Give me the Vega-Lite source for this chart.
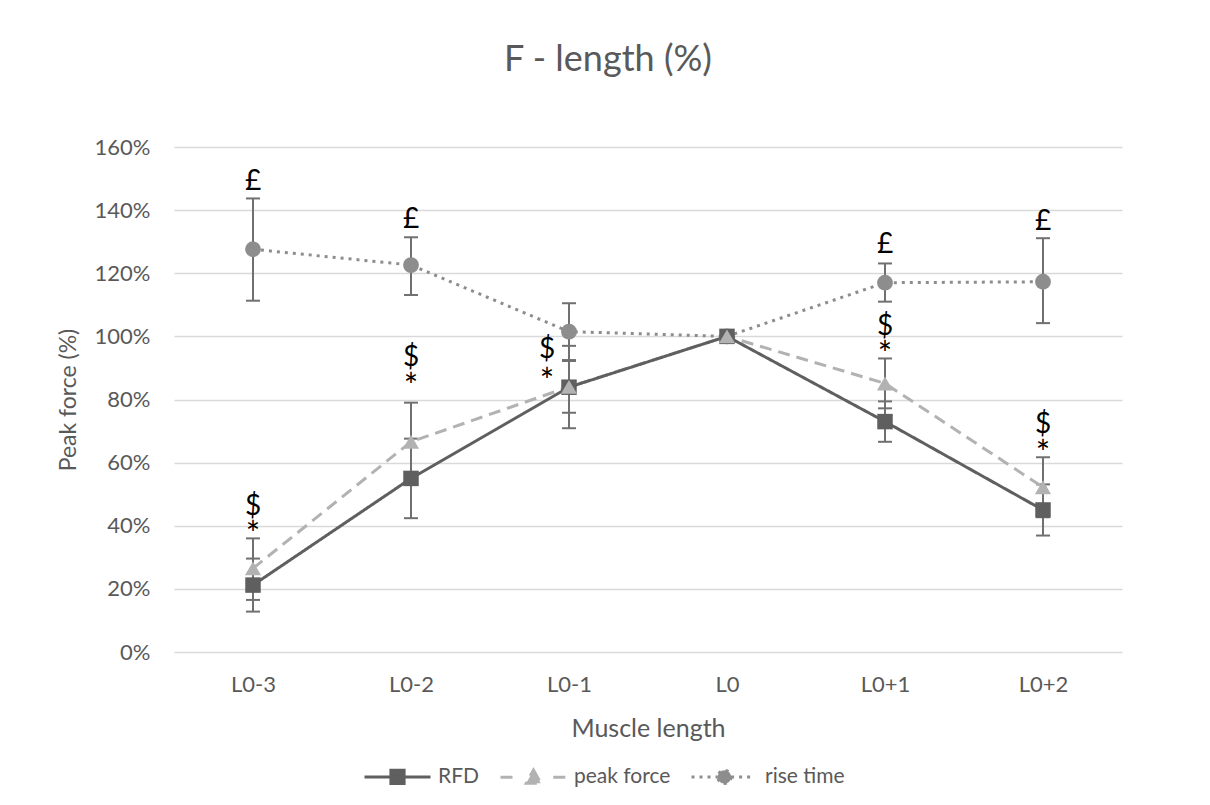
{
  "$schema": "https://vega.github.io/schema/vega-lite/v6.json",
  "width": 948,
  "height": 505,
  "autosize": {"type": "none"},
  "padding": {"left": 174, "top": 147, "right": 88, "bottom": 153},
  "background": "white",
  "title": {
    "text": "F - length (%)",
    "fontSize": 36,
    "font": "Lato",
    "fontWeight": "normal",
    "color": "#595959",
    "anchor": "middle",
    "offset": 57,
    "dx": -40
  },
  "datasets": {
    "series": [
      {"series": "rise time", "length": "L0-3", "value": 127.6, "lo": 111.3, "hi": 143.7},
      {"series": "rise time", "length": "L0-2", "value": 122.6, "lo": 113.1, "hi": 131.4},
      {"series": "rise time", "length": "L0-1", "value": 101.5, "lo": 92.5, "hi": 110.5},
      {"series": "rise time", "length": "L0", "value": 100, "lo": 100, "hi": 100},
      {"series": "rise time", "length": "L0+1", "value": 117.0, "lo": 111.0, "hi": 123.1},
      {"series": "rise time", "length": "L0+2", "value": 117.3, "lo": 104.2, "hi": 131.1},
      {"series": "peak force", "length": "L0-3", "value": 26.5, "lo": 16.5, "hi": 36.0},
      {"series": "peak force", "length": "L0-2", "value": 66.6, "lo": 54.2, "hi": 79.0},
      {"series": "peak force", "length": "L0-1", "value": 84.0, "lo": 75.8, "hi": 92.2},
      {"series": "peak force", "length": "L0", "value": 100, "lo": 100, "hi": 100},
      {"series": "peak force", "length": "L0+1", "value": 85.1, "lo": 77.2, "hi": 93.0},
      {"series": "peak force", "length": "L0+2", "value": 52.2, "lo": 42.7, "hi": 61.7},
      {"series": "RFD", "length": "L0-3", "value": 21.2, "lo": 12.8, "hi": 29.6},
      {"series": "RFD", "length": "L0-2", "value": 55.0, "lo": 42.4, "hi": 67.6},
      {"series": "RFD", "length": "L0-1", "value": 83.9, "lo": 70.9, "hi": 97.0},
      {"series": "RFD", "length": "L0", "value": 100, "lo": 100, "hi": 100},
      {"series": "RFD", "length": "L0+1", "value": 73.0, "lo": 66.6, "hi": 79.4},
      {"series": "RFD", "length": "L0+2", "value": 45.0, "lo": 36.9, "hi": 53.1}
    ],
    "annot": [
      {"length": "L0-3", "label": "£", "at": 149.0},
      {"length": "L0-3", "label": "$", "at": 46.0},
      {"length": "L0-3", "label": "*", "at": 39.2},
      {"length": "L0-2", "label": "£", "at": 136.9},
      {"length": "L0-2", "label": "$", "at": 93.2},
      {"length": "L0-2", "label": "*", "at": 86.2},
      {"length": "L0-1", "label": "$", "at": 95.7},
      {"length": "L0-1", "label": "*", "at": 87.8},
      {"length": "L0+1", "label": "£", "at": 129.0},
      {"length": "L0+1", "label": "$", "at": 103.1},
      {"length": "L0+1", "label": "*", "at": 96.2},
      {"length": "L0+2", "label": "£", "at": 136.3},
      {"length": "L0+2", "label": "$", "at": 71.9},
      {"length": "L0+2", "label": "*", "at": 65.1}
    ]
  },
  "encoding": {
    "x": {
      "field": "length",
      "type": "ordinal",
      "sort": ["L0-3", "L0-2", "L0-1", "L0", "L0+1", "L0+2"],
      "scale": {"type": "point", "padding": 0.5},
      "axis": {
        "title": "Muscle length",
        "labelAngle": 0,
        "labelPadding": 22,
        "titlePadding": 21,
        "titleFontSize": 25,
        "grid": false
      }
    }
  },
  "layer": [
    {
      "data": {"name": "series"},
      "mark": {"type": "rule", "color": "#707070", "strokeWidth": 2},
      "encoding": {
        "y": {"field": "lo", "type": "quantitative"},
        "y2": {"field": "hi"}
      }
    },
    {
      "data": {"name": "series"},
      "mark": {"type": "tick", "orient": "horizontal", "color": "#707070", "size": 14, "thickness": 2, "opacity": 1},
      "encoding": {"y": {"field": "lo", "type": "quantitative"}}
    },
    {
      "data": {"name": "series"},
      "mark": {"type": "tick", "orient": "horizontal", "color": "#707070", "size": 14, "thickness": 2, "opacity": 1},
      "encoding": {"y": {"field": "hi", "type": "quantitative"}}
    },
    {
      "data": {"name": "series"},
      "mark": {"type": "line", "strokeWidth": 3},
      "encoding": {
        "y": {
          "field": "value",
          "type": "quantitative",
          "scale": {"domain": [0, 160]},
          "axis": {
            "title": "Peak force (%)",
            "values": [0, 20, 40, 60, 80, 100, 120, 140, 160],
            "labelExpr": "datum.value + '%'",
            "labelPadding": 24,
            "titlePadding": 14,
            "titleFontSize": 23
          }
        },
        "color": {
          "field": "series",
          "type": "nominal",
          "scale": {"domain": ["RFD", "peak force", "rise time"], "range": ["#5f5f5f", "#b2b2b2", "#8d8d8d"]},
          "legend": {
            "title": null,
            "orient": "none",
            "legendX": 189,
            "legendY": 595,
            "direction": "horizontal",
            "symbolSize": 4356,
            "labelOffset": 6,
            "columnPadding": 14,
            "labelFontSize": 21,
            "labelFont": "Lato",
            "labelColor": "#595959",
            "encode": {
              "symbols": {
                "update": {
                  "shape": {"signal": "datum.value === 'RFD' ? 'M-1,0H1M-0.2,-0.2H0.2V0.2H-0.2Z' : datum.value === 'peak force' ? 'M-1,0H-0.55M0.6,0H1M0,-0.22L0.22,0.18L-0.22,0.18Z' : 'M-1,0H-0.2M0.2,0H0.9M0.2,0A0.2,0.2 0 1,1 -0.2,0A0.2,0.2 0 1,1 0.2,0Z'"},
                  "strokeDash": {"signal": "datum.value === 'rise time' ? [3, 4] : [1, 0]"},
                  "fill": {"scale": "color", "field": "value"},
                  "stroke": {"scale": "color", "field": "value"},
                  "strokeWidth": {"value": 3},
                  "opacity": {"value": 1},
                  "size": {"value": 4356}
                }
              }
            }
          }
        },
        "strokeDash": {
          "field": "series",
          "type": "nominal",
          "scale": {"domain": ["RFD", "peak force", "rise time"], "range": [[1, 0], [12, 7], [3, 5]]},
          "legend": null
        }
      }
    },
    {
      "data": {"name": "series"},
      "transform": [{"filter": "datum.series === 'rise time'"}],
      "mark": {"type": "point", "shape": "circle", "filled": true, "opacity": 1, "size": 250, "color": "#8d8d8d"},
      "encoding": {"y": {"field": "value", "type": "quantitative"}}
    },
    {
      "data": {"name": "series"},
      "transform": [{"filter": "datum.series === 'RFD'"}],
      "mark": {"type": "point", "shape": "square", "filled": true, "opacity": 1, "size": 240, "color": "#5f5f5f"},
      "encoding": {"y": {"field": "value", "type": "quantitative"}}
    },
    {
      "data": {"name": "series"},
      "transform": [{"filter": "datum.series === 'peak force'"}],
      "mark": {"type": "point", "shape": "triangle-up", "filled": true, "opacity": 1, "size": 260, "color": "#b2b2b2"},
      "encoding": {"y": {"field": "value", "type": "quantitative"}}
    },
    {
      "data": {"name": "annot"},
      "transform": [{"filter": "datum.length !== 'L0-1' && datum.label !== '*'"}],
      "mark": {"type": "text", "font": "Lato", "fontSize": 28, "color": "#000000", "baseline": "middle"},
      "encoding": {"y": {"field": "at", "type": "quantitative"}, "text": {"field": "label"}}
    },
    {
      "data": {"name": "annot"},
      "transform": [{"filter": "datum.length !== 'L0-1' && datum.label === '*'"}],
      "mark": {"type": "text", "font": "Lato", "fontSize": 34, "color": "#000000", "baseline": "middle", "dy": 8},
      "encoding": {"y": {"field": "at", "type": "quantitative"}, "text": {"field": "label"}}
    },
    {
      "data": {"name": "annot"},
      "transform": [{"filter": "datum.length === 'L0-1' && datum.label !== '*'"}],
      "mark": {"type": "text", "font": "Lato", "fontSize": 28, "color": "#000000", "baseline": "middle", "dx": -22},
      "encoding": {"y": {"field": "at", "type": "quantitative"}, "text": {"field": "label"}}
    },
    {
      "data": {"name": "annot"},
      "transform": [{"filter": "datum.length === 'L0-1' && datum.label === '*'"}],
      "mark": {"type": "text", "font": "Lato", "fontSize": 34, "color": "#000000", "baseline": "middle", "dx": -22, "dy": 8},
      "encoding": {"y": {"field": "at", "type": "quantitative"}, "text": {"field": "label"}}
    }
  ],
  "config": {
    "view": {"stroke": null},
    "font": "Lato",
    "axis": {
      "labelFont": "Lato",
      "labelFontSize": 22,
      "labelColor": "#595959",
      "titleFont": "Lato",
      "titleFontSize": 24,
      "titleFontWeight": "normal",
      "titleColor": "#595959",
      "domain": false,
      "ticks": false,
      "tickSize": 0,
      "gridColor": "#d9d9d9",
      "gridWidth": 1.5
    },
    "axisX": {"grid": false}
  }
}
